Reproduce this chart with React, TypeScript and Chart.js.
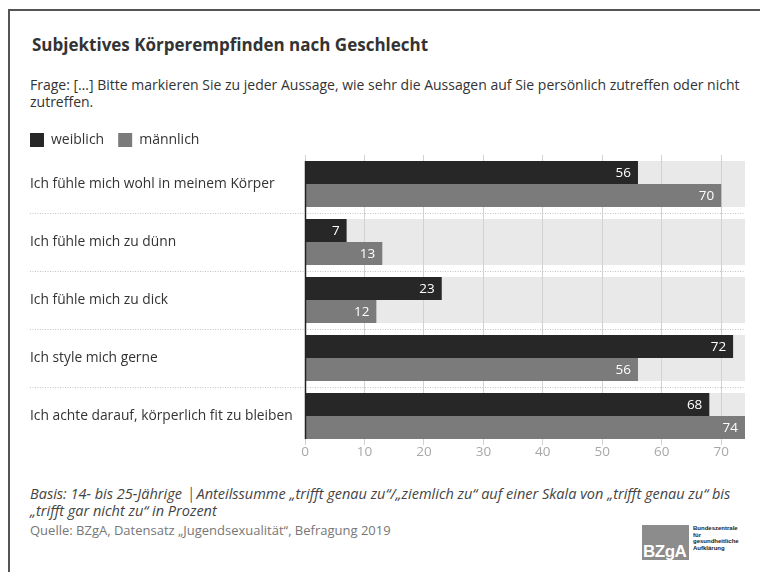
import React, { useEffect, useRef } from "react";
import { Chart, registerables } from "chart.js";
Chart.register(...registerables);

const categories = [
  "Ich fühle mich wohl in meinem Körper",
  "Ich fühle mich zu dünn",
  "Ich fühle mich zu dick",
  "Ich style mich gerne",
  "Ich achte darauf, körperlich fit zu bleiben",
];
const seriesNames = ["weiblich", "männlich"];
const weiblich = [56, 7, 23, 72, 68];
const maennlich = [70, 13, 12, 56, 74];
const axisMax = 74;
const tickStep = 10;

const FONT = "'Open Sans', Lato, sans-serif";
const DARK = "#272727";
const GRAY = "#7b7b7b";

const decoPlugin = {
  id: "deco",
  afterLayout(chart: any) {
    const l = chart.legend;
    if (l) {
      l.left -= 14;
      l.right -= 14;
      l.top += 2;
      l.bottom += 2;
    }
  },
  beforeDraw(chart: any) {
    const { ctx, chartArea } = chart;
    const m0 = chart.getDatasetMeta(0);
    const m1 = chart.getDatasetMeta(1);
    const y = chart.scales.y;
    ctx.save();
    ctx.fillStyle = "#e9e9e9";
    m0.data.forEach((b: any, i: number) => {
      const b1 = m1.data[i];
      const top = b.y - b.height / 2;
      const bottom = b1.y + b1.height / 2;
      ctx.fillRect(chartArea.left, top, chartArea.right - chartArea.left, bottom - top);
    });
    ctx.strokeStyle = "#c4c4c4";
    ctx.lineWidth = 1;
    ctx.setLineDash([1, 1.5]);
    for (let i = 0; i < categories.length - 1; i++) {
      const yy = Math.round((y.getPixelForValue(i) + y.getPixelForValue(i + 1)) / 2) + 0.5;
      ctx.beginPath();
      ctx.moveTo(y.left, yy);
      ctx.lineTo(chartArea.right, yy);
      ctx.stroke();
    }
    ctx.restore();
  },
  afterDatasetsDraw(chart: any) {
    const { ctx } = chart;
    const x = chart.scales.x;
    const m0 = chart.getDatasetMeta(0);
    const m1 = chart.getDatasetMeta(1);
    ctx.save();
    const first = m0.data[0];
    const lastB = m1.data[m1.data.length - 1];
    const x0 = Math.round(x.getPixelForValue(0)) + 0.5;
    ctx.strokeStyle = "#222";
    ctx.lineWidth = 1.5;
    ctx.beginPath();
    ctx.moveTo(x0, first.y - first.height / 2);
    ctx.lineTo(x0, lastB.y + lastB.height / 2);
    ctx.stroke();
    ctx.fillStyle = "#ffffff";
    ctx.font = "13.5px " + FONT;
    ctx.textAlign = "right";
    ctx.textBaseline = "middle";
    [0, 1].forEach((di) => {
      const meta = chart.getDatasetMeta(di);
      const ds = chart.data.datasets[di];
      meta.data.forEach((b: any, i: number) => {
        ctx.fillText(String(ds.data[i]), b.x - 7, b.y + 1);
      });
    });
    ctx.restore();
  },
};

function BarChart() {
  const ref = useRef<HTMLCanvasElement>(null);
  useEffect(() => {
    const chart = new Chart(ref.current!, {
      type: "bar",
      data: {
        labels: categories,
        datasets: [
          { label: seriesNames[0], data: weiblich, backgroundColor: DARK },
          { label: seriesNames[1], data: maennlich, backgroundColor: GRAY },
        ],
      },
      options: {
        indexAxis: "y",
        animation: false,
        responsive: false,
        maintainAspectRatio: false,
        datasets: { bar: { categoryPercentage: 0.793, barPercentage: 1 } },
        layout: { padding: { left: 20, right: 5, top: 0, bottom: 0 } },
        scales: {
          x: {
            min: 0,
            max: axisMax,
            border: { display: false },
            grid: { color: "#d2d2d2", lineWidth: 1, tickLength: 0, drawTicks: false },
            afterFit: (s: any) => {
              s.height = 14;
            },
            ticks: {
              stepSize: tickStep,
              includeBounds: false,
              color: "#a8a8a8",
              font: { family: FONT, size: 13.5 },
              padding: -1,
            },
          },
          y: {
            border: { display: false },
            grid: { display: false, drawTicks: false },
            afterFit: (s: any) => {
              s.width = 275;
            },
            ticks: {
              crossAlign: "far",
              color: "#333",
              font: { family: FONT, size: 13.8 },
            },
          },
        },
        plugins: {
          legend: {
            position: "top",
            align: "start",
            labels: {
              boxWidth: 14,
              boxHeight: 14,
              padding: 14,
              color: "#333",
              font: { family: FONT, size: 14 },
            },
          },
          tooltip: { enabled: false },
        },
      } as any,
      plugins: [decoPlugin],
    });
    return () => chart.destroy();
  }, []);
  return (
    <canvas
      ref={ref}
      width={740}
      height={342}
      style={{ position: "absolute", left: 10, top: 117, width: 740, height: 342 }}
    />
  );
}

export default function App() {
  const txt: React.CSSProperties = { position: "absolute", fontFamily: FONT, color: "#333" };
  return (
    <div style={{ position: "absolute", left: 0, top: 0, width: 760, height: 572, background: "#fff", overflow: "hidden" }}>
      <div
        style={{
          position: "absolute",
          left: 8,
          top: 9,
          width: 760,
          height: 580,
          borderTop: "2px solid #555",
          borderLeft: "2px solid #555",
        }}
      />
      <div style={{ ...txt, left: 32, top: 34, fontSize: 17, fontWeight: 700, lineHeight: "22px" }}>
        Subjektives Körperempfinden nach Geschlecht
      </div>
      <div style={{ ...txt, left: 30, top: 76, width: 722, fontSize: 14, lineHeight: "17px" }}>
        Frage: […] Bitte markieren Sie zu jeder Aussage, wie sehr die Aussagen auf Sie persönlich zutreffen oder nicht
        zutreffen.
      </div>
      <BarChart />
      <div style={{ ...txt, left: 30, top: 485, width: 715, fontSize: 14.5, lineHeight: "17px", fontStyle: "italic", color: "#444" }}>
        Basis: 14- bis 25-Jährige │Anteilssumme „trifft genau zu“/„ziemlich zu“ auf einer Skala von „trifft genau zu“ bis
        „trifft gar nicht zu“ in Prozent
      </div>
      <div style={{ ...txt, left: 30, top: 522, fontSize: 13, lineHeight: "17px", color: "#777" }}>
        Quelle: BZgA, Datensatz „Jugendsexualität“, Befragung 2019
      </div>
      <div
        style={{
          position: "absolute",
          left: 642,
          top: 525,
          width: 47,
          height: 35,
          background: "#8c8c8c",
        }}
      >
        <div
          style={{
            position: "absolute",
            left: 1,
            bottom: -2,
            fontFamily: "'Liberation Sans', Arial, sans-serif",
            fontWeight: 700,
            fontSize: 17,
            color: "#fff",
            letterSpacing: -0.5,
          }}
        >
          BZgA
        </div>
      </div>
      <div
        style={{
          position: "absolute",
          left: 693,
          top: 525,
          fontFamily: "'Liberation Sans', Arial, sans-serif",
          fontWeight: 700,
          fontSize: 6,
          lineHeight: "6.6px",
          color: "#222",
        }}
      >
        Bundeszentrale
        <br />
        für
        <br />
        gesundheitliche
        <br />
        Aufklärung
      </div>
    </div>
  );
}
